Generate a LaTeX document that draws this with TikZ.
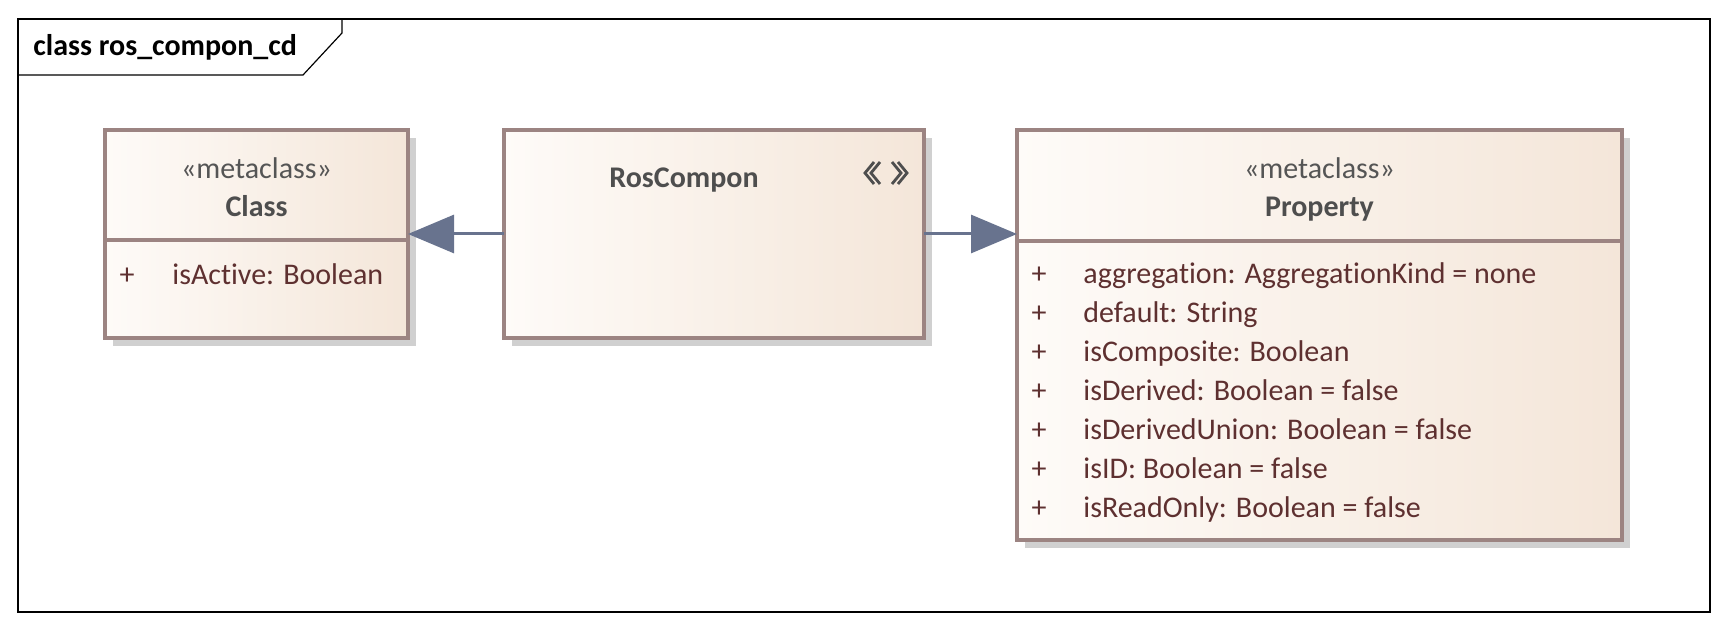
\documentclass[tikz,border=0pt]{standalone}
\usepackage{fontspec}
\setmainfont{Carlito}[Ligatures=NoCommon]
\usetikzlibrary{arrows.meta,shadows}
\definecolor{boxL}{RGB}{254,251,248}
\definecolor{boxR}{RGB}{244,230,217}
\definecolor{boxborder}{RGB}{156,132,130}
\definecolor{shadowgray}{RGB}{208,208,208}
\definecolor{attrcol}{RGB}{94,48,48}
\definecolor{stereocol}{RGB}{85,85,85}
\definecolor{namecol}{RGB}{78,78,78}
\definecolor{arrowcol}{RGB}{104,115,142}
\begin{document}
\begin{tikzpicture}[x=0.5pt,y=-0.5pt,
  umlbox/.style={draw=boxborder, line width=1.6pt, left color=boxL, right color=boxR,
    inner sep=0pt, outer sep=0pt, anchor=north west,
    drop shadow={shadow xshift=4pt, shadow yshift=-4pt, fill=shadowgray, opacity=1}},
  txt/.style={inner sep=0pt, font=\fontsize{15pt}{18pt}\selectfont},
  attr/.style={txt, text=attrcol, anchor=base west},
  plus/.style={txt, text=attrcol, anchor=base},
  stereo/.style={txt, text=stereocol, anchor=base},
  cname/.style={inner sep=0pt, text=namecol, font=\fontsize{15pt}{18pt}\selectfont\bfseries, anchor=base},
  divider/.style={draw=boxborder, line width=1.6pt},
  conn/.style={draw=arrowcol, line width=1.5pt, -{Triangle[length=23pt,width=19pt]}},
  chev/.style={draw=namecol, line width=1.4pt}
]
\useasboundingbox (0,0) rectangle (1728,630);
% frame
\draw[line width=1pt] (18,19) rectangle (1710,612);
\draw[line width=0.6pt] (18,75) -- (303,75) -- (342,33) -- (342,19);
\node[inner sep=0pt, anchor=base west, font=\fontsize{15pt}{18pt}\selectfont\bfseries] (title) at (33,56) {class ros\_compon\_cd};

% Class
\node[umlbox, minimum width=151.5pt, minimum height=104pt] (cls) at (105,130) {};
\draw[divider] (cls.west |- 0,240) -- (cls.east |- 0,240);
\node[stereo] (clsst) at (256.5,178.5) {«metaclass»};
\node[cname] (clsnm) at (256.5,216.5) {Class};
\node[plus] (clsp1) at (127,285) {+};
\node[attr] (clsa1) at (172,285) {isActive: Boolean};

% RosCompon
\node[umlbox, minimum width=210pt, minimum height=104pt] (rc) at (504,130) {};
\node[cname] (rcnm) at (684,187.5) {RosCompon};
\draw[chev] (874,162) -- (865,173) -- (874,184);
\draw[chev] (880,162) -- (871,173) -- (880,184);
\draw[chev] (892,162) -- (901,173) -- (892,184);
\draw[chev] (898,162) -- (907,173) -- (898,184);

% Property
\node[umlbox, minimum width=302.5pt, minimum height=205pt] (prop) at (1017,130) {};
\draw[divider] (prop.west |- 0,241) -- (prop.east |- 0,241);
\node[stereo] (propst) at (1319.5,178.5) {«metaclass»};
\node[cname] (propnm) at (1319.5,216.5) {Property};
\foreach \i/\t in {0/{aggregation: AggregationKind = none},
                   1/{default: String},
                   2/{isComposite: Boolean},
                   3/{isDerived: Boolean = false},
                   4/{isDerivedUnion: Boolean = false},
                   5/{isID: Boolean = false},
                   6/{isReadOnly: Boolean = false}}{
  \node[plus] (pp\i) at (1039,283.5+39*\i) {+};
  \node[attr] (pa\i) at (1083,283.5+39*\i) {\t};
}

% connectors
\draw[conn] (rc.west) -- (cls.east);
\draw[conn] (rc.east) -- (prop.west |- rc.east);
\end{tikzpicture}
\end{document}
